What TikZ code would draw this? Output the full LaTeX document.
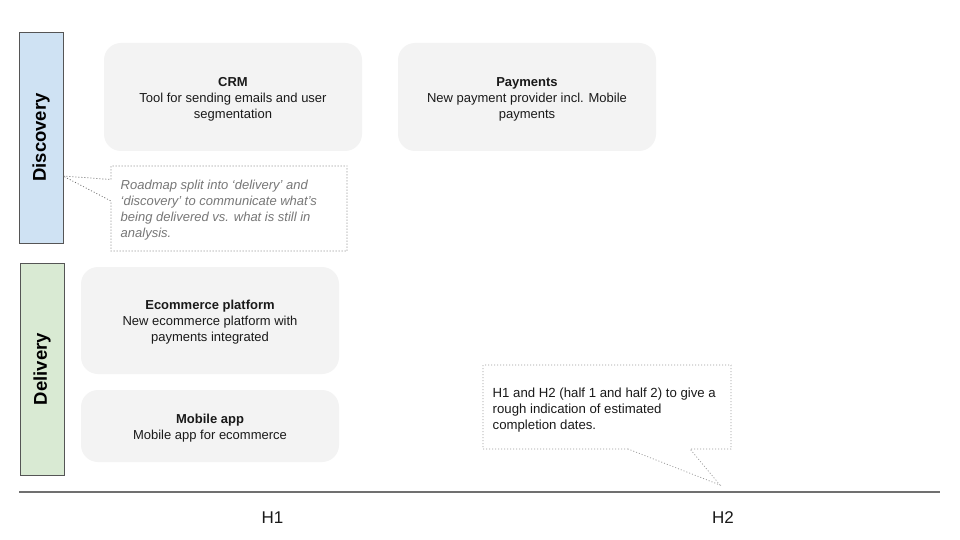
\documentclass[tikz,border=0pt]{standalone}
\usepackage{fontspec}
\setmainfont{Liberation Sans}
\definecolor{boxfill}{HTML}{F3F3F3}
\definecolor{discfill}{HTML}{CFE2F3}
\definecolor{delfill}{HTML}{D9EAD3}
\definecolor{barline}{HTML}{555555}
\definecolor{notegray}{HTML}{6E6E6E}
\definecolor{notegrayb}{HTML}{9A9A9A}
\definecolor{notetxt}{HTML}{777777}
\definecolor{axisgray}{HTML}{707070}
\definecolor{txt}{HTML}{1A1A1A}
\tikzset{
  itembox/.style={fill=boxfill, draw=none, rounded corners=17pt, minimum width=258pt, inner sep=0pt},
  itemtext/.style={align=center, text=txt, font=\fontsize{13}{16}\selectfont, inner sep=0pt, yshift=-2pt},
  lane/.style={draw=barline, line width=0.8pt, minimum width=44pt, inner sep=0pt},
  lanelabel/.style={rotate=90, font=\fontsize{18.5}{20}\selectfont\bfseries, text=black},
  notebox/.style={dash pattern=on 1pt off 2pt, line width=0.75pt},
  notetext/.style={align=left, anchor=north west, inner sep=0pt},
  halflabel/.style={font=\fontsize{17}{20}\selectfont, text=txt}
}
\begin{document}
\begin{tikzpicture}[x=1pt,y=-1pt]
\useasboundingbox (0,0) rectangle (960,540);
\fill[white] (0,0) rectangle (960,540);

% lanes
\node[lane, fill=discfill, minimum height=211pt] (disc) at (41,137.5) {};
\node[lanelabel] (disclabel) at (disc.center) {Discovery};
\node[lane, fill=delfill, minimum height=212pt] (deliv) at (42,369) {};
\node[lanelabel] (delivlabel) at (deliv.center) {Delivery};

% items
\node[itembox, minimum height=108pt] (crm) at (233,97) {};
\node[itemtext] (crmtext) at (crm.center) {\textbf{CRM}\\Tool for sending emails and user\\segmentation};
\node[itembox, minimum height=108pt] (pay) at (527,97) {};
\node[itemtext] (paytext) at (pay.center) {\textbf{Payments}\\New payment provider incl. Mobile\\payments};
\node[itembox, minimum height=107pt] (ecom) at (210,320.5) {};
\node[itemtext] (ecomtext) at (ecom.center) {\textbf{Ecommerce platform}\\New ecommerce platform with\\payments integrated};
\node[itembox, minimum height=72pt] (mob) at (210,426) {};
\node[itemtext] (mobtext) at (mob.center) {\textbf{Mobile app}\\Mobile app for ecommerce};

% note 1
\coordinate (n1tip) at (63,176);
\draw[notebox, draw=notegray] (111,179.5) -- (111,166) -- (347,166) -- (347,251) -- (111,251) -- (111,201) -- (n1tip) -- cycle;
\node[notetext, text=notetxt, font=\fontsize{13}{16}\selectfont\itshape] (note1) at (120.5,180)
  {Roadmap split into ‘delivery’ and\\‘discovery’ to communicate what’s\\being delivered vs. what is still in\\analysis.};

% note 2
\coordinate (n2tip) at (720,485);
\draw[notebox, draw=notegrayb] (628,449) -- (483,449) -- (483,365) -- (731,365) -- (731,449) -- (690,449) -- (n2tip) -- cycle;
\node[notetext, text=txt, font=\fontsize{13.2}{16}\selectfont] (note2) at (492.5,387.5)
  {H1 and H2 (half 1 and half 2) to give a\\rough indication of estimated\\completion dates.};

% axis
\coordinate (axL) at (19,491.5);
\coordinate (axR) at (940,491.5);
\draw[axisgray, line width=2pt] (axL) -- (axR);
\node[halflabel] (h1) at (272.5,517.5) {H1};
\node[halflabel] (h2) at (723,517.5) {H2};
\end{tikzpicture}
\end{document}
